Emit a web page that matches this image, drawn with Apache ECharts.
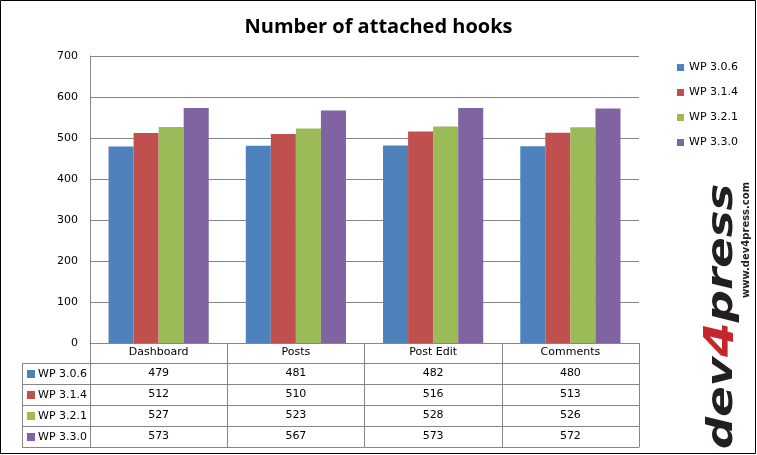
<!DOCTYPE html>
<html>
<head>
<meta charset="utf-8">
<script src="https://cdn.jsdelivr.net/npm/echarts@6/dist/echarts.min.js"></script>
<style>
  html, body { margin: 0; padding: 0; background: #fff; }
  #chart { width: 757px; height: 455px; }
</style>
</head>
<body>
<div id="chart"></div>
<script>
var categories = ['Dashboard', 'Posts', 'Post Edit', 'Comments'];
var seriesNames = ['WP 3.0.6', 'WP 3.1.4', 'WP 3.2.1', 'WP 3.3.0'];
var wp306 = [479, 481, 482, 480];
var wp314 = [512, 510, 516, 513];
var wp321 = [527, 523, 528, 526];
var wp330 = [573, 567, 573, 572];
var colors = ['#4F81BD', '#C0504D', '#9BBB59', '#8064A2'];

var values = [wp306, wp314, wp321, wp330];
var myChart = echarts.init(document.getElementById('chart'));
var lineColor = '#868686';
var font = 'DejaVu Sans';

// table geometry (below the plot)
var gridLeft = 90, gridRight = 118, gridTop = 56, gridBottom = 112;
var headerH = 20, rowH = 21;
var axisY = 455 - gridBottom;

// one extra x axis per table row: its line is the row border, its labels are the values
var xAxes = [{
  type: 'category',
  data: categories,
  axisLine: { lineStyle: { color: lineColor } },
  axisTick: { show: true, length: headerH + rowH * 4, lineStyle: { color: lineColor } },
  axisLabel: { color: '#000', fontFamily: font, fontSize: 11, margin: 4 }
}];
values.forEach(function (row, i) {
  xAxes.push({
    type: 'category',
    data: categories,
    position: 'bottom',
    offset: headerH + rowH * i,
    axisLine: { lineStyle: { color: lineColor } },
    axisTick: { show: false },
    axisLabel: {
      color: '#000', fontFamily: font, fontSize: 11, margin: 5,
      formatter: function (v, idx) { return String(row[idx]); }
    }
  });
});
xAxes.push({
  type: 'category',
  data: categories,
  position: 'bottom',
  offset: headerH + rowH * 4,
  axisLine: { lineStyle: { color: lineColor } },
  axisTick: { show: false },
  axisLabel: { show: false }
});

// left column of the data table
var tableGraphics = [];
for (var i = 0; i <= 4; i++) {
  var ly = axisY + headerH + rowH * i;
  tableGraphics.push({
    type: 'line', shape: { x1: 22, y1: ly + 0.5, x2: gridLeft, y2: ly + 0.5 },
    style: { stroke: lineColor, lineWidth: 1 }
  });
}
tableGraphics.push({
  type: 'line', shape: { x1: 22.5, y1: axisY + headerH, x2: 22.5, y2: axisY + headerH + rowH * 4 },
  style: { stroke: lineColor, lineWidth: 1 }
});
seriesNames.forEach(function (name, i) {
  var cy = axisY + headerH + rowH * i + rowH / 2;
  tableGraphics.push({
    type: 'rect', shape: { x: 27, y: cy - 3.5, width: 8, height: 8 },
    style: { fill: colors[i] }
  });
  tableGraphics.push({
    type: 'text', x: 38, y: cy + 1,
    style: { text: name, font: '11px "DejaVu Sans"', fill: '#000', textVerticalAlign: 'middle' }
  });
});

// logo
tableGraphics.push({
  type: 'text', x: 743, y: 449, rotation: Math.PI / 2, scaleY: 0.8,
  style: {
    text: '{a|dev}{b|4}{a|press}',
    rich: {
      a: { font: 'italic bold 45px "DejaVu Sans"', fill: '#231f20' },
      b: { font: 'italic bold 50px "DejaVu Sans"', fill: '#c1272d' }
    },
    textAlign: 'left', textVerticalAlign: 'bottom'
  }
});
tableGraphics.push({
  type: 'text', x: 751, y: 298, rotation: Math.PI / 2,
  style: {
    text: 'www.dev4press.com', font: 'bold 10px "DejaVu Sans"', fill: '#231f20',
    textAlign: 'left', textVerticalAlign: 'bottom'
  }
});
// outer frame
tableGraphics.push({
  type: 'rect', shape: { x: 0.5, y: 0.5, width: 755, height: 453 },
  style: { fill: 'none', stroke: '#000', lineWidth: 1 }
});

var option = {
  backgroundColor: '#fff',
  animation: false,
  color: colors,
  title: {
    text: 'Number of attached hooks',
    left: 'center',
    top: 12,
    textStyle: { fontFamily: 'Open Sans', fontWeight: 'bold', fontSize: 20, color: '#000' }
  },
  legend: {
    orient: 'vertical',
    left: 672,
    top: 57,
    itemWidth: 7,
    itemHeight: 7,
    itemGap: 14,
    icon: 'rect',
    data: seriesNames,
    textStyle: { fontFamily: font, fontSize: 11, color: '#000' }
  },
  grid: { left: gridLeft, right: gridRight, top: gridTop, bottom: gridBottom, containLabel: false },
  xAxis: xAxes,
  yAxis: {
    type: 'value',
    min: 0,
    max: 700,
    interval: 100,
    axisLine: { show: true, lineStyle: { color: lineColor } },
    axisTick: { show: false },
    axisLabel: { color: '#000', fontFamily: font, fontSize: 11, margin: 12 },
    splitLine: { lineStyle: { color: lineColor } }
  },
  series: seriesNames.map(function (name, i) {
    return {
      name: name,
      type: 'bar',
      data: values[i],
      barGap: '0%',
      barCategoryGap: '27%'
    };
  }),
  graphic: tableGraphics
};

option && myChart.setOption(option);
</script>
</body>
</html>
